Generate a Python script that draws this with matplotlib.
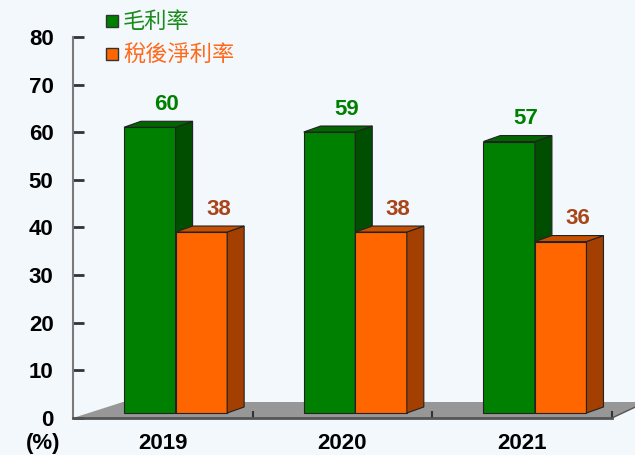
import matplotlib.pyplot as plt
from matplotlib.patches import Polygon, Rectangle

years = ['2019', '2020', '2021']
gross_margin = [60, 59, 57]
net_margin = [38, 38, 36]
series_names = ['毛利率', '稅後淨利率']
yticks = [0, 10, 20, 30, 40, 50, 60, 70, 80]

W, H = 635, 455
bg = '#f3f8fd'

fig = plt.figure(figsize=(W / 100, H / 100), dpi=100, facecolor=bg)
ax = fig.add_axes([73 / W, (H - 418) / H, 539 / W, 381 / H], facecolor=bg)
ax.set_xlim(0, 3)
ax.set_ylim(0, 80)

# pixel -> data conversion for the fake 3d offsets
px_x = 539 / 3
px_y = 381 / 80
ddx, ddy = 17 / px_x, 6 / px_y   # bar depth
base = 5 / px_y                  # bars sit a bit back on the floor
bw = 0.287

# floor
floor = Polygon([(0, 0), (50 / px_x, 16 / px_y), (3 + 34 / px_x, 16 / px_y), (3, 0)],
                closed=True, fc='#979797', ec='none', zorder=1, clip_on=False)
ax.add_patch(floor)
ax.plot([3, 3 + 34 / px_x], [0, 16 / px_y], color='#555555', lw=1, clip_on=False, zorder=1)


def bar3d(offset, vals, front, side, top, z):
    xs = [i + offset for i in range(len(vals))]
    ax.bar(xs, vals, width=bw, bottom=base, align='edge', color=front,
           edgecolor='#222222', linewidth=0.8, zorder=z)
    for x, v in zip(xs, vals):
        t = base + v
        s = [(x + bw, base), (x + bw + ddx, base + ddy), (x + bw + ddx, t + ddy), (x + bw, t)]
        tp = [(x, t), (x + ddx, t + ddy), (x + bw + ddx, t + ddy), (x + bw, t)]
        ax.add_patch(Polygon(s, closed=True, fc=side, ec='#222222', lw=0.8, zorder=z))
        ax.add_patch(Polygon(tp, closed=True, fc=top, ec='#222222', lw=0.8, zorder=z))
    return xs


gx = bar3d(0.284, gross_margin, '#008000', '#004f00', '#006600', 2)
nx = bar3d(0.571, net_margin, '#ff6600', '#a33f00', '#c85000', 3)

for x, v in zip(gx, gross_margin):
    ax.annotate(str(v), (x + bw / 2 + ddx, v + base + ddy), xytext=(0, 8),
                textcoords='offset points', ha='center', va='baseline',
                fontsize=16, fontweight='bold', color='#008000',
                family='Liberation Sans', zorder=5)
for x, v in zip(nx, net_margin):
    ax.annotate(str(v), (x + bw / 2 + ddx, v + base + ddy), xytext=(0, 8),
                textcoords='offset points', ha='center', va='baseline',
                fontsize=16, fontweight='bold', color='#a8461a',
                family='Liberation Sans', zorder=5)

# axes styling
for sp in ['top', 'right']:
    ax.spines[sp].set_visible(False)
ax.spines['left'].set_color('#7a7a7a')
ax.spines['left'].set_linewidth(1.5)
ax.spines['bottom'].set_color('#555555')
ax.spines['bottom'].set_linewidth(2)
ax.spines['bottom'].set_zorder(4)

ax.set_yticks(yticks)
ax.set_yticklabels([str(t) for t in yticks], fontsize=16, fontweight='bold',
                   family='Liberation Sans')
ax.tick_params(axis='y', direction='in', length=8, width=2, color='#333333', pad=14)

ax.set_xticks([0.5, 1.5, 2.5])
ax.set_xticklabels(years, fontsize=16, fontweight='bold', family='Liberation Sans')
ax.set_xticks([1, 2, 3], minor=True)
ax.tick_params(axis='x', which='major', length=0, pad=11)
ax.tick_params(axis='x', which='minor', direction='in', length=5, width=1.5, color='#333333')

fig.text(43 / W, 1 - 444 / H, '(%)', ha='center', va='center', fontsize=16,
         fontweight='bold', family='Liberation Sans')

# legend
leg_colors = ['#008000', '#ff6600']
leg_text_colors = ['#1a8a1a', '#ff6a1a']
for k, (name, c, tc) in enumerate(zip(series_names, leg_colors, leg_text_colors)):
    yc = 21 + k * 33
    fig.patches.append(Rectangle((106 / W, 1 - (yc + 6) / H), 12 / W, 12 / H,
                                 transform=fig.transFigure, fc=c, ec='#333333', lw=1))
    fig.text(123 / W, 1 - yc / H, name, ha='left', va='center', fontsize=16,
             color=tc, family=['Noto Sans CJK TC', 'DejaVu Sans'])

fig.savefig('out.png', dpi=100, facecolor=bg)
